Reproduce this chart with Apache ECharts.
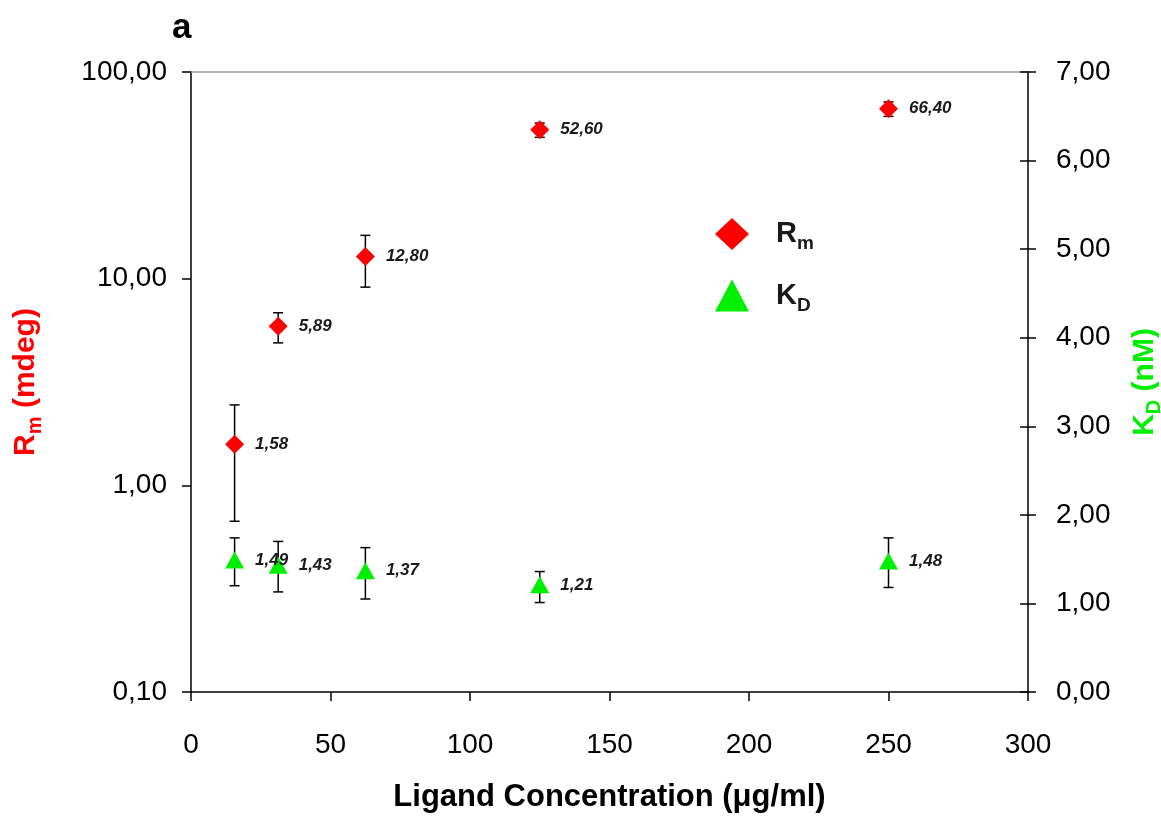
<!DOCTYPE html>
<html>
<head>
<meta charset="utf-8">
<script src="https://cdn.jsdelivr.net/npm/echarts@6/dist/echarts.min.js"></script>
<style>
  html, body { margin: 0; padding: 0; background: #fff; }
  #chart { width: 1161px; height: 816px; }
</style>
</head>
<body>
<div id="chart"></div>
<script>
// ligand concentration (µg/ml)
const conc = [15.625, 31.25, 62.5, 125, 250]
// Rm (mdeg) with error range
const rm = [1.58, 5.89, 12.8, 52.6, 66.4]
const rmLow = [0.67, 4.89, 9.1, 48.3, 61.0]
const rmHigh = [2.45, 6.84, 16.2, 56.6, 71.6]
// KD (nM) with error range
const kd = [1.49, 1.43, 1.37, 1.21, 1.48]
const kdLow = [1.2, 1.13, 1.05, 1.01, 1.18]
const kdHigh = [1.74, 1.7, 1.63, 1.36, 1.74]

const fmt = (v) => Number(v).toFixed(2).replace('.', ',')
const FONT = 'Liberation Sans'

const myChart = echarts.init(document.getElementById('chart'))

// error bar renderer (vertical line + caps)
function errorBar(params, api) {
  const x = api.value(0)
  const lo = api.coord([x, api.value(1)])
  const hi = api.coord([x, api.value(2)])
  const cap = 5
  const style = { stroke: '#000', lineWidth: 1.5 }
  return {
    type: 'group',
    children: [
      { type: 'line', shape: { x1: lo[0], y1: lo[1], x2: hi[0], y2: hi[1] }, style: style },
      { type: 'line', shape: { x1: lo[0] - cap, y1: lo[1], x2: lo[0] + cap, y2: lo[1] }, style: style },
      { type: 'line', shape: { x1: hi[0] - cap, y1: hi[1], x2: hi[0] + cap, y2: hi[1] }, style: style }
    ]
  }
}

const pointLabel = {
  show: true,
  position: 'right',
  distance: 11,
  fontFamily: FONT,
  fontStyle: 'italic',
  fontWeight: 'bold',
  fontSize: 17,
  color: '#1a1a1a',
  formatter: (p) => fmt(p.value[1])
}

const option = {
  backgroundColor: '#fff',
  animation: false,
  textStyle: { fontFamily: FONT },
  title: {
    text: 'a',
    left: 167,
    top: 6,
    textStyle: { fontFamily: FONT, fontSize: 35, fontWeight: 'bold', color: '#000' }
  },
  grid: { left: 191, right: 133, top: 72, bottom: 124, outerBoundsMode: 'none' },
  legend: {
    orient: 'vertical',
    left: 710,
    top: 213,
    itemWidth: 34,
    itemHeight: 32,
    itemGap: 26,
    data: [
      { name: 'Rm', icon: 'diamond' },
      { name: 'KD', icon: 'triangle' }
    ],
    formatter: (n) => '{a|' + n[0] + '}{s|' + n[1] + '}',
    textStyle: {
      color: '#1a1a1a',
      padding: [0, 0, 0, 22],
      rich: {
        a: { fontFamily: FONT, fontSize: 29, fontWeight: 'bold', color: '#1a1a1a' },
        s: { fontFamily: FONT, fontSize: 19, fontWeight: 'bold', color: '#1a1a1a', padding: [20, 0, 0, 0] }
      }
    }
  },
  xAxis: [
    {
      type: 'value',
      min: 0,
      max: 300,
      interval: 50,
      name: 'Ligand Concentration (\u03bcg/ml)',
      nameLocation: 'middle',
      nameGap: 90,
      nameTextStyle: { fontFamily: FONT, fontSize: 31, fontWeight: 'bold', color: '#000' },
      axisLine: { onZero: false, lineStyle: { color: '#000', width: 1.5 } },
      axisTick: { show: true, inside: false, length: 9, lineStyle: { color: '#000', width: 1.5 } },
      axisLabel: { fontFamily: FONT, fontSize: 28, color: '#000', margin: 39 },
      splitLine: { show: false }
    },
    {
      // grey frame line along the top
      type: 'value',
      position: 'top',
      min: 0,
      max: 300,
      axisLine: { onZero: false, lineStyle: { color: '#999', width: 1.5 } },
      axisTick: { show: false },
      axisLabel: { show: false },
      splitLine: { show: false }
    }
  ],
  yAxis: [
    {
      type: 'log',
      logBase: 10,
      min: 0.1,
      max: 100,
      interval: 1,
      position: 'left',
      name: '{a|R}{s|m}{a| (mdeg)}',
      nameLocation: 'middle',
      nameRotate: 90,
      nameGap: 146,
      nameTextStyle: {
        rich: {
          a: { fontFamily: FONT, fontSize: 30, fontWeight: 'bold', color: '#ff0000' },
          s: { fontFamily: FONT, fontSize: 20, fontWeight: 'bold', color: '#ff0000', padding: [18, 0, 0, 0] }
        }
      },
      axisLine: { show: true, onZero: false, lineStyle: { color: '#000', width: 1.5 } },
      axisTick: { show: true, inside: false, length: 9, lineStyle: { color: '#000', width: 1.5 } },
      minorTick: { show: false },
      axisLabel: { fontFamily: FONT, fontSize: 28, color: '#000', margin: 24, formatter: fmt },
      splitLine: { show: false }
    },
    {
      type: 'value',
      min: 0,
      max: 7,
      interval: 1,
      position: 'right',
      name: '{a|K}{s|D}{a| (nM)}',
      nameLocation: 'middle',
      nameRotate: 90,
      nameGap: 98,
      nameTextStyle: {
        rich: {
          a: { fontFamily: FONT, fontSize: 30, fontWeight: 'bold', color: '#00ee00' },
          s: { fontFamily: FONT, fontSize: 20, fontWeight: 'bold', color: '#00ee00', padding: [18, 0, 0, 0] }
        }
      },
      axisLine: { show: true, onZero: false, lineStyle: { color: '#000', width: 1.5 } },
      axisTick: { show: true, length: 8, lineStyle: { color: '#000', width: 1.5 } },
      axisLabel: { fontFamily: FONT, fontSize: 28, color: '#000', margin: 28, formatter: fmt },
      splitLine: { show: false }
    },
    {
      // inner half of the crossing ticks on the right axis
      type: 'value',
      min: 0,
      max: 7,
      interval: 1,
      position: 'right',
      axisLine: { show: false, onZero: false },
      axisTick: { show: true, inside: true, length: 8, lineStyle: { color: '#000', width: 1.5 } },
      axisLabel: { show: false },
      splitLine: { show: false }
    }
  ],
  series: [
    {
      name: 'Rm err',
      type: 'custom',
      yAxisIndex: 0,
      renderItem: errorBar,
      data: conc.map((c, i) => [c, rmLow[i], rmHigh[i]]),
      z: 1
    },
    {
      name: 'KD err',
      type: 'custom',
      yAxisIndex: 1,
      renderItem: errorBar,
      data: conc.map((c, i) => [c, kdLow[i], kdHigh[i]]),
      z: 1
    },
    {
      name: 'Rm',
      type: 'scatter',
      yAxisIndex: 0,
      symbol: 'diamond',
      symbolSize: [19, 19],
      itemStyle: { color: '#ff0000', opacity: 1 },
      label: pointLabel,
      data: conc.map((c, i) => [c, rm[i]]),
      z: 3
    },
    {
      name: 'KD',
      type: 'scatter',
      yAxisIndex: 1,
      symbol: 'triangle',
      symbolSize: [19, 17],
      itemStyle: { color: '#00ee00', opacity: 1 },
      label: pointLabel,
      data: conc.map((c, i) => [c, kd[i]]),
      z: 3
    }
  ]
}

myChart.setOption(option)
window.addEventListener('resize', function () {
  myChart.resize()
})
</script>
</body>
</html>
